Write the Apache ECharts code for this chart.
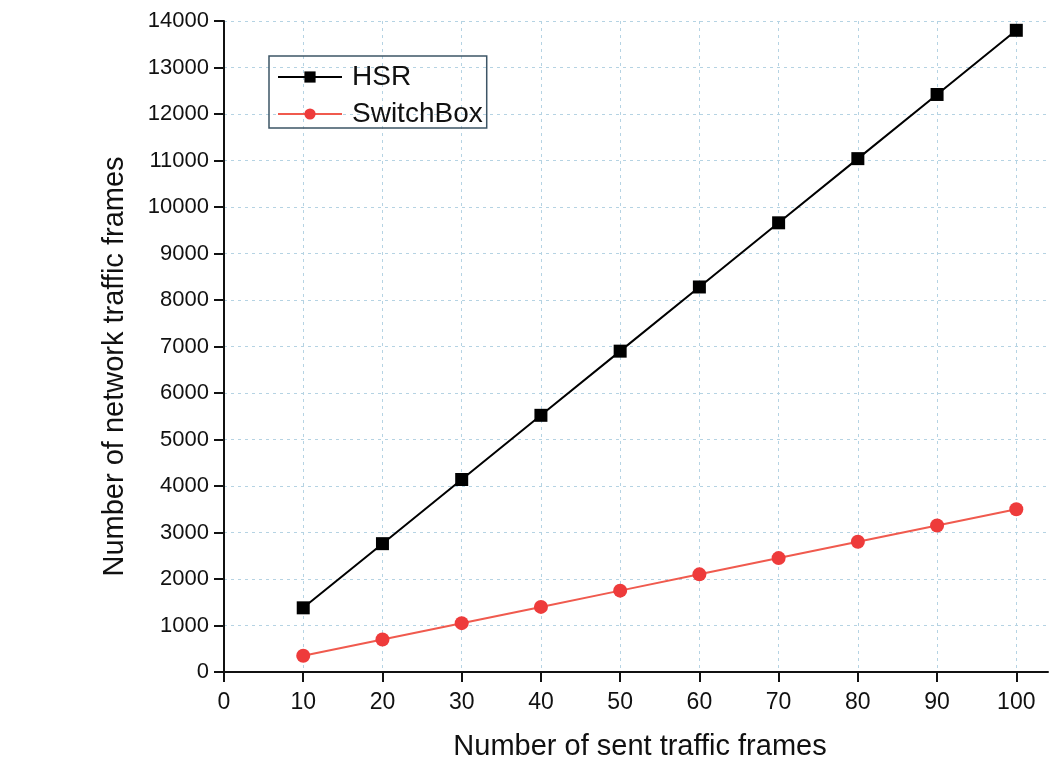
<!DOCTYPE html>
<html><head><meta charset="utf-8">
<script src="https://cdn.jsdelivr.net/npm/echarts@6/dist/echarts.min.js"></script>
<style>html,body{margin:0;padding:0;background:#fff;overflow:hidden}#c{width:1049px;height:758px}</style>
</head><body><div id="c"></div>
<script>
const categories = [10, 20, 30, 40, 50, 60, 70, 80, 90, 100];
const hsr = [1380, 2760, 4140, 5520, 6900, 8280, 9660, 11040, 12420, 13800];
const switchBox = [350, 700, 1050, 1400, 1750, 2100, 2450, 2800, 3150, 3500];
const xTicks = [0, 10, 20, 30, 40, 50, 60, 70, 80, 90, 100];
const seriesNames = ['HSR', 'SwitchBox'];

const font = 'Liberation Sans, Arial, sans-serif';
const chart = echarts.init(document.getElementById('c'));
chart.setOption({
  animation: false,
  backgroundColor: '#fff',
  grid: { left: 224, top: 21, width: 824, height: 651, containLabel: false, outerBoundsMode: 'none' },
  legend: {
    left: 269, top: 56, orient: 'vertical',
    itemWidth: 64, itemHeight: 14, itemGap: 9,
    padding: [7, 4, 0, 8],
    borderColor: '#3d5566', borderWidth: 1.5,
    textStyle: { fontFamily: font, fontSize: 28, color: '#111', padding: [0, 0, 0, 5] },
    data: seriesNames
  },
  xAxis: {
    type: 'value', min: 0, max: 104, interval: 10,
    name: 'Number of sent traffic frames', nameLocation: 'middle', nameGap: 60,
    nameTextStyle: { fontFamily: font, fontSize: 29, color: '#111', padding: [0, 0, 0, 8] },
    axisLine: { lineStyle: { color: '#111', width: 2 } },
    axisTick: { show: true, length: 10, lineStyle: { width: 2, color: '#111' }, customValues: xTicks },
    axisLabel: { fontFamily: font, fontSize: 23, color: '#111', margin: 19, customValues: xTicks },
    splitLine: { show: true, lineStyle: { color: '#b5d3e3', type: [3, 4], width: 1 } }
  },
  yAxis: {
    type: 'value', min: 0, max: 14000, interval: 1000,
    name: 'Number of network traffic frames', nameLocation: 'middle', nameGap: 95,
    nameTextStyle: { fontFamily: font, fontSize: 29, color: '#111', padding: [0, 40, 0, 0] },
    axisLine: { show: true, lineStyle: { color: '#111', width: 2 } },
    axisTick: { show: true, length: 10, lineStyle: { width: 2, color: '#111' } },
    axisLabel: { fontFamily: font, fontSize: 22, color: '#111', margin: 15, formatter: v => String(v) },
    splitLine: { show: true, lineStyle: { color: '#b5d3e3', type: [3, 4], width: 1 } }
  },
  series: [
    {
      name: seriesNames[0], type: 'line',
      data: categories.map((c, i) => [c, hsr[i]]),
      symbol: 'rect', symbolSize: 13,
      lineStyle: { color: '#000', width: 2 },
      itemStyle: { color: '#000' }
    },
    {
      name: seriesNames[1], type: 'line',
      data: categories.map((c, i) => [c, switchBox[i]]),
      symbol: 'circle', symbolSize: 14,
      lineStyle: { color: '#f05a4e', width: 2 },
      itemStyle: { color: '#ee3b3b' }
    }
  ]
});
</script></body></html>
